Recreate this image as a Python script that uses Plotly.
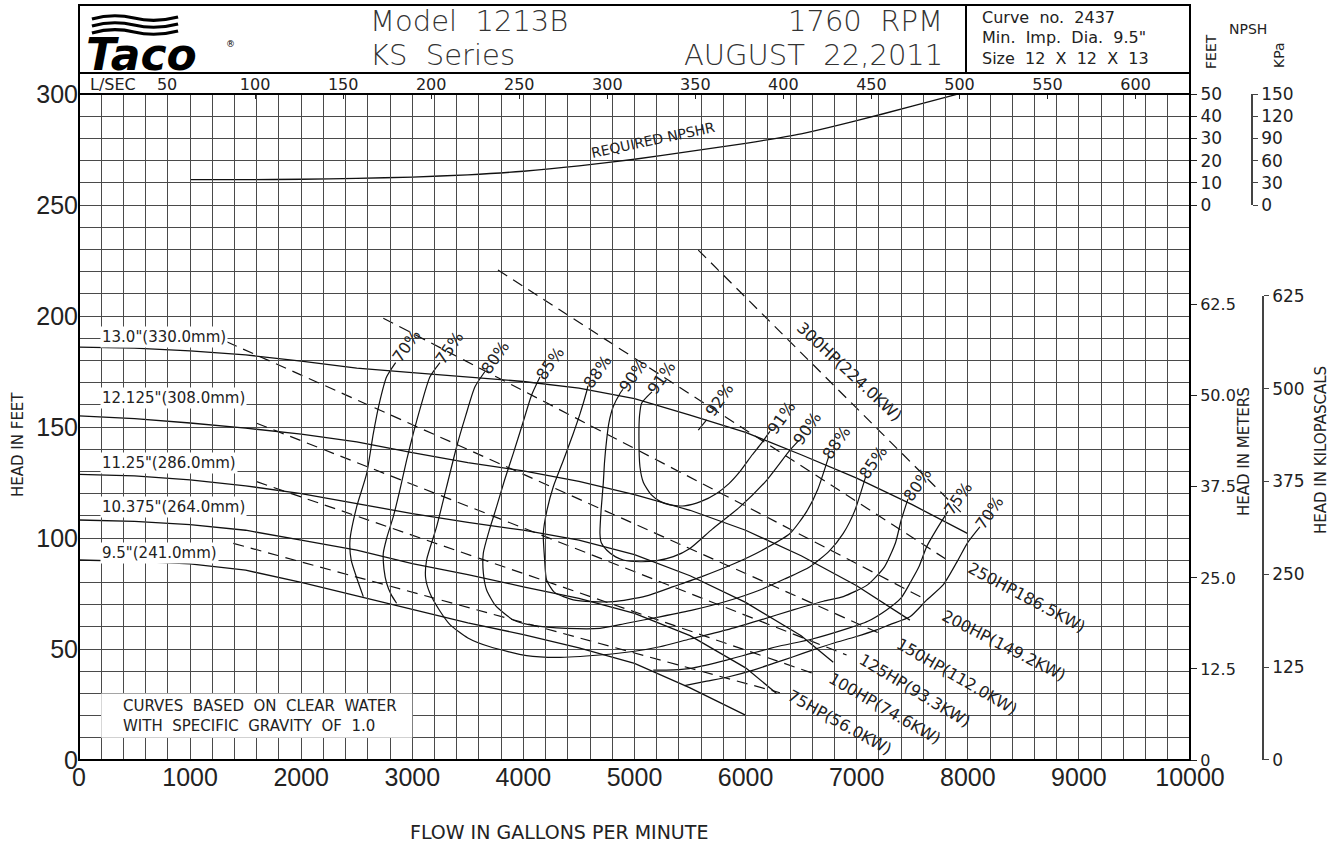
import plotly.graph_objects as go

# ---------------- data ----------------
# impeller curves: flow (gpm) / head (ft)
imp_labels = ['13.0"(330.0mm)', '12.125"(308.0mm)', '11.25"(286.0mm)', '10.375"(264.0mm)', '9.5"(241.0mm)']
imp_label_head = [190.7, 163.2, 133.6, 114.1, 93.4]

q_130 = [0, 500, 1000, 1500, 2000, 2500, 3000, 3500, 4000, 4500, 5000, 5500, 6000, 6500, 7000, 7500, 8000]
h_130 = [186, 185.5, 184.3, 182.5, 179.7, 176.5, 174.5, 172.6, 170.5, 167.5, 162.8, 155.4, 147.6, 137.5, 127, 115, 102]
q_12125 = [0, 500, 1000, 1500, 2000, 2500, 3000, 3500, 4000, 4500, 5000, 5500, 6000, 6500, 7000, 7479]
h_12125 = [155, 153.8, 151.8, 149.5, 146.8, 143.3, 138.5, 134, 130.2, 125.5, 119.5, 112.5, 103.5, 92, 78.5, 63]
q_1125 = [0, 500, 1000, 1500, 2000, 2500, 3000, 3500, 4000, 4500, 5000, 5500, 6000, 6500, 6789]
h_1125 = [128.7, 128, 126.2, 123.5, 120, 115.5, 111, 107, 103.5, 99, 92.5, 83, 71, 56, 44]
q_10375 = [0, 500, 1000, 1500, 2000, 2500, 3000, 3500, 4000, 4500, 5000, 5500, 6000, 6279]
h_10375 = [108.1, 107.5, 106, 103.5, 99, 94.5, 88.5, 83.5, 78, 72.8, 66, 56, 41.5, 30]
q_95 = [0, 500, 1000, 1500, 2000, 2500, 3000, 3500, 4000, 4500, 5000, 5500, 5994]
h_95 = [90.1, 89.5, 88.3, 85.5, 80, 74, 68, 61.8, 56.5, 50.5, 43.5, 32.5, 20.3]

# iso-efficiency contours
q_e70a = [2850, 2769, 2700, 2649, 2589, 2499, 2439, 2450, 2500, 2559]
h_e70a = [179, 172.6, 160, 147, 129, 114, 99, 90, 82, 73.6]
q_e70b = [8109, 8000, 7900, 7780, 7629, 7479, 7300, 7179, 6990, 6789, 6600, 6429, 6250, 6069, 5850, 5650, 5450]
h_e70b = [105, 98, 89, 79, 72, 64.5, 61, 58.6, 55.5, 52.6, 49.5, 46.5, 43.5, 40.5, 37.5, 35.5, 33.5]
q_e75a = [3249, 3159, 3080, 3009, 2949, 2890, 2829, 2770, 2739, 2745, 2769, 2810, 2859]
h_e75a = [179, 172.6, 160, 147.1, 135.1, 122, 109.6, 100, 93.1, 86, 79.6, 74.5, 70.6]
q_e75b = [5169, 5350, 5529, 5829, 6050, 6279, 6600, 6879, 7100, 7269, 7400, 7479, 7560, 7629, 7720, 7821]
h_e75b = [40.5, 40.6, 41.5, 45, 48, 51, 54.5, 58.6, 62.5, 67.6, 73, 79.6, 87, 96, 104, 112]
q_e80 = [3654, 3564, 3480, 3399, 3309, 3219, 3129, 3120, 3159, 3250, 3339, 3500, 3699, 4029, 4300, 4689,
         5000, 5229, 5500, 5829, 6129, 6429, 6700, 6879, 7100, 7250, 7350, 7400, 7461]
h_e80 = [175, 168.1, 155, 141.1, 123.1, 105.1, 90.1, 82, 75.1, 67, 61, 55, 51, 47, 46.2, 47.3,
         49, 51, 54.5, 58.6, 63, 67.6, 71.5, 73.6, 79, 87, 98, 108, 117.5]
q_e85 = [4149, 4074, 3990, 3909, 3830, 3759, 3690, 3639, 3640, 3669, 3750, 3909, 4100, 4389, 4689, 4929,
         5229, 5529, 5829, 6129, 6350, 6579, 6750, 6879, 6980, 7083]
h_e85 = [172.5, 164.4, 151, 138.1, 126, 114.1, 103, 93.1, 84, 76.6, 69.5, 63.1, 60.5, 59.3, 59.3, 61.6,
         64.5, 67.6, 71.5, 76.6, 81.5, 87.1, 94, 102.1, 112, 128]
q_e88 = [4581, 4569, 4510, 4449, 4360, 4269, 4210, 4179, 4190, 4209, 4280, 4449, 4620, 4809, 5100, 5349,
         5600, 5900, 6150, 6399, 6550, 6650, 6750]
h_e88 = [168.5, 166, 156, 147.1, 135, 123.1, 112, 102.1, 91, 81.1, 75.5, 72.1, 71.3, 71.3, 73.8, 78.1,
         82.5, 88.5, 94.5, 102, 112, 122, 137]
q_e90 = [4896, 4869, 4809, 4770, 4749, 4730, 4719, 4700, 4689, 4700, 4749, 4830, 4899, 5049, 5200, 5349,
         5499, 5700, 5949, 6189, 6399, 6480]
h_e90 = [167, 165.1, 159.2, 152, 144.1, 134, 124.6, 113, 102.1, 98, 94.6, 91.5, 90.1, 89.3, 89.8, 91.6,
         95.3, 104, 114, 126, 139.6, 144]
q_e91 = [5157, 5064, 5045, 5040, 5049, 5080, 5150, 5230, 5319, 5450, 5600, 5739, 5850, 5950, 6060, 6140, 6219]
h_e91 = [165.8, 160.7, 155, 145, 132.1, 125, 119.5, 116.5, 114.9, 114.5, 116.5, 120.1, 124.5, 130, 137.5, 142.5, 148]
q_e92 = [5574, 5649]
h_e92 = [148.6, 153.2]

# efficiency labels: text, flow, head
eff_text = ['70%', '75%', '80%', '85%', '88%', '90%', '91%',
            '92%', '91%', '90%', '88%', '85%', '80%', '75%', '70%']
eff_q = [2952, 3339, 3744, 4239, 4671, 4986, 5247,
         5769, 6327, 6552, 6822, 7146, 7551, 7911, 8199]
eff_h = [186.5, 185.6, 181.5, 178.8, 174.8, 173.4, 172.1,
         162.2, 154.1, 149.5, 142.8, 134.2, 123.9, 118.0, 111.3]

# brake horsepower lines (start / end)
hp_text = ['75HP(56.0KW)', '100HP(74.6KW)', '125HP(93.3KW)', '150HP(112.0KW)',
           '200HP(149.2KW)', '250HP186.5KW)', '300HP(224.0KW)']
hp_q = [[1389, 6309], [1599, 6609], [1599, 6909], [1329, 7239], [2739, 7629], [3771, 7839], [5574, 7950]]
hp_h = [[97.6, 30.3], [125.4, 39.0], [151.7, 47.3], [188.4, 56.3], [199.0, 72.1], [220.7, 89.3], [229.7, 111.0]]
hp_label_q = [6850, 7255, 7525, 7903, 8326, 8533, 6931]
hp_label_h = [17.1, 23.4, 31.5, 37.8, 51.8, 73.4, 174.8]
hp_label_angle = [29, 30, 31, 30, 27, 28, 43]

# required NPSH (ft)
npsh_q = [1000, 1500, 2000, 2500, 3000, 3500, 4000, 4500, 5000, 5500, 6000, 6500, 7000, 7500, 7950]
npsh_ft = [11.4, 11.4, 11.6, 12.0, 12.6, 13.6, 15.2, 17.6, 20.6, 24.2, 27.8, 32.0, 38.0, 44.5, 50.5]

# axis tick values
lps_ticks = [50, 100, 150, 200, 250, 300, 350, 400, 450, 500, 550, 600]
meter_ticks = [0, 12.5, 25, 37.5, 50, 62.5]
meter_text = ['0', '12.5', '25.0', '37.5', '50.0', '62.5']
kpa_ticks = [0, 125, 250, 375, 500, 625]
npsh_ft_ticks = [0, 10, 20, 30, 40, 50]
npsh_kpa_ticks = [0, 30, 60, 90, 120, 150]

# ---------------- geometry helpers (layout only) ----------------
W, H = 1340, 843
L, R, T, B = 79, 4, 94, 83
PW, PH = W - L - R, H - T - B
XDOM = 1111 / PW
GPM_PER_LPS = 15.8503
FT_PER_M = 1 / 0.3048
KPA_PER_FT = 2.98907


def px(xp):
    return (xp - L) / PW


def py(yp):
    return (H - B - yp) / PH


INK = '#111111'
GRID = '#4a4a4a'
TXT = '#222222'
FONT = 'DejaVu Sans'
NUMF = 'Liberation Sans'

fig = go.Figure()

# impeller curves
for q, h in [(q_130, h_130), (q_12125, h_12125), (q_1125, h_1125), (q_10375, h_10375), (q_95, h_95)]:
    fig.add_trace(go.Scatter(x=q, y=h, mode='lines', line=dict(color=INK, width=1.3),
                             hoverinfo='skip', showlegend=False))

# efficiency contours
for q, h in [(q_e70a, h_e70a), (q_e70b, h_e70b), (q_e75a, h_e75a), (q_e75b, h_e75b),
             (q_e80, h_e80), (q_e85, h_e85), (q_e88, h_e88), (q_e90, h_e90), (q_e91, h_e91),
             (q_e92, h_e92)]:
    fig.add_trace(go.Scatter(x=q, y=h, mode='lines', line=dict(color=INK, width=1.2, shape='spline', smoothing=0.6),
                             hoverinfo='skip', showlegend=False))

# horsepower lines
for q, h in zip(hp_q, hp_h):
    fig.add_trace(go.Scatter(x=q, y=h, mode='lines', line=dict(color=INK, width=1.2, dash='11px,7px'),
                             hoverinfo='skip', showlegend=False))

# required NPSH on its own scale
fig.add_trace(go.Scatter(x=npsh_q, y=npsh_ft, mode='lines', yaxis='y4',
                         line=dict(color=INK, width=1.3, shape='spline', smoothing=0.6),
                         hoverinfo='skip', showlegend=False))

# helper traces so the secondary scales are drawn
fig.add_trace(go.Scatter(x=[None], y=[None], xaxis='x2', yaxis='y', showlegend=False, hoverinfo='skip'))
fig.add_trace(go.Scatter(x=[None], y=[None], yaxis='y2', showlegend=False, hoverinfo='skip'))
fig.add_trace(go.Scatter(x=[None], y=[None], yaxis='y3', showlegend=False, hoverinfo='skip'))
fig.add_trace(go.Scatter(x=[None], y=[None], yaxis='y5', showlegend=False, hoverinfo='skip'))

ann = []
# impeller labels
for t, hv in zip(imp_labels, imp_label_head):
    ann.append(dict(x=190, y=hv, xref='x', yref='y', text=t, showarrow=False, xanchor='left',
                    yanchor='middle', bgcolor='white', borderpad=1,
                    font=dict(family=FONT, size=15, color=TXT)))
# efficiency labels
for t, q, hv in zip(eff_text, eff_q, eff_h):
    ann.append(dict(x=q, y=hv, xref='x', yref='y', text=t, showarrow=False, textangle=-55,
                    xanchor='center', yanchor='middle',
                    font=dict(family=FONT, size=16, color=TXT)))
# horsepower labels
for t, q, hv, a in zip(hp_text, hp_label_q, hp_label_h, hp_label_angle):
    ann.append(dict(x=q, y=hv, xref='x', yref='y', text=t, showarrow=False, textangle=a,
                    xanchor='center', yanchor='middle',
                    font=dict(family=FONT, size=16, color=TXT)))
# NPSHR label
ann.append(dict(x=5166, y=29.3, xref='x', yref='y4', text='REQUIRED NPSHR', showarrow=False, textangle=-12,
                xanchor='center', yanchor='middle', font=dict(family=FONT, size=14, color=TXT)))
# clear water note
ann.append(dict(x=380, y=20, xref='x', yref='y', xanchor='left', yanchor='middle', showarrow=False,
                text='CURVES  BASED  ON  CLEAR  WATER<br>WITH  SPECIFIC  GRAVITY  OF  1.0',
                align='left', font=dict(family=FONT, size=15, color=TXT)))

# header texts
hdr = [
    ('Model 1213B', 368, 21, 'left'),
    ('KS Series', 368, 55, 'left'),
    ('1760 RPM', 945, 21, 'right'),
    ('AUGUST 22,2011', 945, 55, 'right'),
]
for t, xx, yy, anc in hdr:
    ann.append(dict(x=px(xx), y=py(yy), xref='paper', yref='paper', text=t.replace(' ', '\u00a0\u00a0'),
                    showarrow=False, xanchor=anc, yanchor='middle',
                    font=dict(family=FONT, size=29, color='#333333', weight=300)))
for t, yy in [('Curve no. 2437', 18), ('Min. Imp. Dia. 9.5"', 38), ('Size 12 X 12 X 13', 58)]:
    ann.append(dict(x=px(980), y=py(yy), xref='paper', yref='paper', text=t.replace(' ', '\u00a0\u00a0'),
                    showarrow=False, xanchor='left', yanchor='middle',
                    font=dict(family=FONT, size=16, color=TXT)))
ann.append(dict(x=px(88), y=py(84), xref='paper', yref='paper', text='L/SEC', showarrow=False,
                xanchor='left', yanchor='middle', font=dict(family=FONT, size=16, color=TXT)))
# logo
ann.append(dict(x=px(84), y=py(55), xref='paper', yref='paper', text='Taco', showarrow=False,
                xanchor='left', yanchor='middle',
                font=dict(family=FONT, size=44, color='black', weight=900, style='italic')))
ann.append(dict(x=px(230), y=py(44), xref='paper', yref='paper', text='®', showarrow=False,
                xanchor='center', yanchor='middle', font=dict(family=FONT, size=9, color='black')))
# side / axis titles
side = [
    ('FEET', 1211, 52, -90, 14), ('NPSH', 1248, 29, 0, 14), ('KPa', 1279, 55, -90, 14),
    ('HEAD IN FEET', 18, 445, -90, 15), ('HEAD IN METERS', 1244, 452, -90, 15),
    ('HEAD IN KILOPASCALS', 1321, 450, -90, 15),
]
for t, xx, yy, a, s in side:
    ann.append(dict(x=px(xx), y=py(yy), xref='paper', yref='paper', text=t, showarrow=False,
                    textangle=a, xanchor='center', yanchor='middle',
                    font=dict(family=FONT, size=s, color=TXT)))
ann.append(dict(x=px(559), y=py(832), xref='paper', yref='paper', text='FLOW IN GALLONS PER MINUTE',
                showarrow=False, xanchor='center', yanchor='middle',
                font=dict(family=FONT, size=19, color=TXT)))

shapes = [
    # white box behind the note
    dict(type='rect', xref='x', yref='y', x0=200, x1=3000, y0=10, y1=30, fillcolor='white',
         line=dict(width=0), layer='above'),
    # plot frame
    dict(type='rect', xref='paper', yref='paper', x0=0, x1=XDOM, y0=0, y1=1,
         line=dict(color='black', width=2)),
    # header box
    dict(type='rect', xref='paper', yref='paper', x0=0, x1=XDOM, y0=1, y1=py(5),
         line=dict(color='black', width=2)),
    dict(type='line', xref='paper', yref='paper', x0=0, x1=XDOM, y0=py(73), y1=py(73),
         line=dict(color='black', width=2)),
    dict(type='line', xref='paper', yref='paper', x0=px(966), x1=px(966), y0=py(73), y1=py(5),
         line=dict(color='black', width=2)),
]
# logo waves
for yy in (18, 25, 32):
    path = 'M {:.4f},{:.4f} Q {:.4f},{:.4f} {:.4f},{:.4f} T {:.4f},{:.4f}'.format(
        px(92), py(yy + 1), px(113), py(yy - 5), px(134), py(yy), px(178), py(yy - 1))
    shapes.append(dict(type='path', xref='paper', yref='paper', path=path,
                       line=dict(color='black', width=3.2)))

axfont = dict(family=NUMF, size=25, color=TXT)
fig.update_layout(
    width=W, height=H, margin=dict(l=L, r=R, t=T, b=B, autoexpand=False),
    paper_bgcolor='white', plot_bgcolor='rgba(0,0,0,0)', showlegend=False, hovermode=False,
    font=dict(family=FONT, color=TXT),
    xaxis=dict(domain=[0, XDOM], range=[0, 10000], tick0=0, dtick=1000, tickformat='d', ticks='',
               showline=False, zeroline=False, showgrid=True, gridcolor=GRID, gridwidth=1,
               minor=dict(tick0=0, dtick=200, showgrid=True, gridcolor=GRID, gridwidth=1),
               tickfont=axfont, anchor='y', fixedrange=True, automargin=False),
    xaxis2=dict(overlaying='x', side='top', anchor='y', range=[0, 10000 / GPM_PER_LPS],
                tickmode='array', tickvals=lps_ticks, ticks='inside', ticklen=5, tickcolor=TXT,
                showgrid=False, zeroline=False, showline=False, automargin=False,
                tickfont=dict(family=FONT, size=16, color=TXT), fixedrange=True),
    yaxis=dict(domain=[0, 1], range=[0, 300], tick0=0, dtick=50, ticks='', showline=False, zeroline=False,
               showgrid=True, gridcolor=GRID, gridwidth=1,
               minor=dict(tick0=0, dtick=10, showgrid=True, gridcolor=GRID, gridwidth=1),
               tickfont=axfont, anchor='x', fixedrange=True, automargin=False),
    yaxis2=dict(overlaying='y', side='right', anchor='x', range=[0, 300 / FT_PER_M],
                tickmode='array', tickvals=meter_ticks, ticktext=meter_text, ticks='outside', ticklen=6,
                tickcolor=TXT, showgrid=False, zeroline=False, showline=False, automargin=False,
                tickfont=dict(family=FONT, size=16, color=TXT), fixedrange=True),
    yaxis3=dict(domain=[0, 625 / KPA_PER_FT / 300], range=[0, 625], anchor='free', position=px(1263),
                side='right', tickmode='array', tickvals=kpa_ticks, ticks='outside', ticklen=5,
                tickcolor='#444', showline=True, linecolor='#444', linewidth=1.5, automargin=False,
                showgrid=False, zeroline=False, tickfont=dict(family=FONT, size=17, color=TXT),
                fixedrange=True),
    yaxis4=dict(domain=[250 / 300, 1], range=[0, 50], anchor='x', side='right', tickmode='array',
                tickvals=npsh_ft_ticks, ticks='outside', ticklen=6, tickcolor=TXT, showgrid=False,
                zeroline=False, showline=False, tickfont=dict(family=FONT, size=17, color=TXT),
                fixedrange=True, automargin=False),
    yaxis5=dict(domain=[250 / 300, 1], range=[0, 150], anchor='free', position=px(1252), side='right',
                tickmode='array', tickvals=npsh_kpa_ticks, ticks='outside', ticklen=5, tickcolor='#444',
                showline=True, linecolor='#444', linewidth=1.5, showgrid=False, zeroline=False,
                tickfont=dict(family=FONT, size=17, color=TXT), fixedrange=True, automargin=False),
    annotations=ann,
    shapes=shapes,
)

fig.write_html("out.html", config={'displayModeBar': False},
               post_script="document.body.style.margin='0';document.body.style.overflow='hidden';")
